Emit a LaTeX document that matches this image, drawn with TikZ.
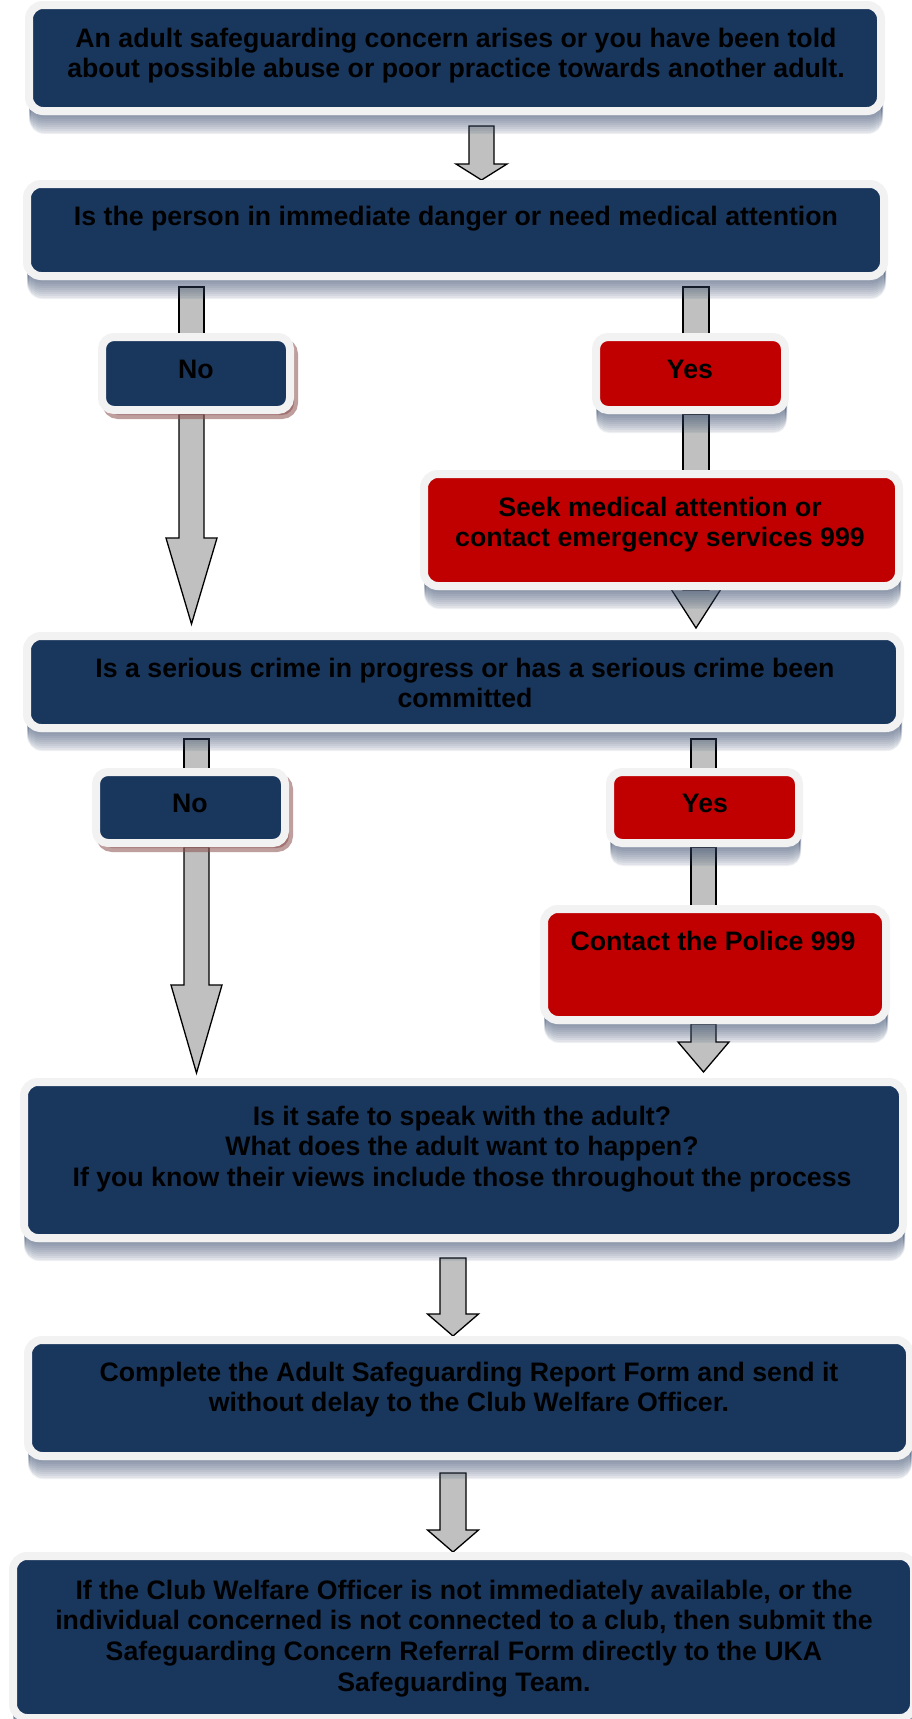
\documentclass[tikz,border=0pt]{standalone}
\usepackage{fontspec}
\setmainfont{Liberation Sans}
\usetikzlibrary{calc,backgrounds}
\definecolor{navy}{RGB}{25,54,93}
\definecolor{boxred}{RGB}{192,0,0}
\definecolor{rim}{RGB}{242,242,242}
\definecolor{arrowgray}{RGB}{192,192,192}
\definecolor{shadowcol}{RGB}{55,75,110}
\definecolor{pinkshadow}{RGB}{140,80,80}
\newcommand\fcstrut{\rule{0pt}{20pt}}
% shaft without head: x-centre, from node, offset below it, to node, half width
\newcommand\shaftbar[5]{%
  \draw[arrowsty] let \p1=(#2.south), \p2=(#4.north) in
    ({(#1-#5)*1pt},{\y1-#3*1pt}) rectangle ({(#1+#5)*1pt},{\y2-6pt});}
% block arrow: x-centre, from node, offset below it, to node, tip above to.north, head length, shaft half, head half
\newcommand\blockarrow[8]{%
  \draw[arrowsty] let \p1=(#2.south), \p2=(#4.north) in
    ({(#1-#7)*1pt},{\y1-#3*1pt}) -- ({(#1+#7)*1pt},{\y1-#3*1pt})
    -- ({(#1+#7)*1pt},{\y2+(#5+#6)*1pt}) -- ({(#1+#8)*1pt},{\y2+(#5+#6)*1pt})
    -- ({#1*1pt},{\y2+#5*1pt})
    -- ({(#1-#8)*1pt},{\y2+(#5+#6)*1pt}) -- ({(#1-#7)*1pt},{\y2+(#5+#6)*1pt}) -- cycle;}
\tikzset{
  sh/.style={preaction={fill=shadowcol, fill opacity=0.075, draw=shadowcol, line width=2pt,
      draw opacity=0.075, transform canvas={xshift=1pt,yshift=-#1}}},
  softshadow/.style={sh=6pt, sh=8pt, sh=10pt, sh=12pt, sh=14pt, sh=16pt, sh=18pt, sh=20pt, sh=22pt},
  box/.style={rounded corners=14pt, draw=rim, line width=8pt, inner sep=0pt, softshadow},
  navybox/.style={box, fill=navy},
  redbox/.style={box, fill=boxred},
  nobox/.style={rounded corners=12pt, draw=rim, line width=8pt, inner sep=0pt, fill=navy,
      preaction={fill=pinkshadow, draw=pinkshadow, line width=8pt, opacity=0.55,
      transform canvas={xshift=4pt,yshift=-5pt}}},
  yesbox/.style={redbox, rounded corners=12pt},
  txt/.style={font=\fontsize{26.7}{30.6}\selectfont\bfseries, align=center, inner sep=0pt,
      anchor=north, text=black},
  arrowsty/.style={fill=arrowgray, draw=black, line width=1.3pt, line join=miter}
}
\begin{document}
\begin{tikzpicture}[x=1pt,y=-1pt]
\useasboundingbox (0,0) rectangle (912,1719);

% boxes
\node[navybox, minimum width=852, minimum height=106] (b1) at (455,58) {};
\node[navybox, minimum width=857, minimum height=92] (b2) at (455.5,230) {};
\node[nobox, minimum width=188, minimum height=73] (no1) at (196,373.5) {};
\node[yesbox, minimum width=189, minimum height=73] (yes1) at (690.5,373.5) {};
\node[redbox, minimum width=475, minimum height=112] (seek) at (661.5,530) {};
\node[navybox, minimum width=873, minimum height=92] (b3) at (463.5,682) {};
\node[nobox, minimum width=189, minimum height=71] (no2) at (190.5,807.5) {};
\node[yesbox, minimum width=189, minimum height=71] (yes2) at (704.5,807.5) {};
\node[redbox, minimum width=342, minimum height=111] (police) at (715,964.5) {};
\node[navybox, minimum width=879, minimum height=156] (b4) at (463.5,1160) {};
\node[navybox, minimum width=882, minimum height=116] (b5) at (469,1398) {};
\node[navybox, minimum width=901, minimum height=162] (b6) at (463.5,1637) {};

% texts
\node[txt] (t1) at (456,27) {\fcstrut An adult safeguarding concern arises or you have been told\\about possible abuse or poor practice towards another adult.};
\node[txt] (t2) at (456,205) {\fcstrut Is the person in immediate danger or need medical attention};
\node[txt] (tno1) at (196,358) {\fcstrut No};
\node[txt] (tyes1) at (690,358) {\fcstrut Yes};
\node[txt] (tseek) at (660,496) {\fcstrut Seek medical attention or\\contact emergency services 999};
\node[txt] (t3) at (465,657) {\fcstrut Is a serious crime in progress or has a serious crime been\\committed};
\node[txt] (tno2) at (190,792) {\fcstrut No};
\node[txt] (tyes2) at (705,792) {\fcstrut Yes};
\node[txt] (tpol) at (713,930) {\fcstrut Contact the Police 999};
\node[txt] (t4) at (462,1105) {\fcstrut Is it safe to speak with the adult?\\What does the adult want to happen?\\If you know their views include those throughout the process};
\node[txt] (t5) at (469,1361) {\fcstrut Complete the Adult Safeguarding Report Form and send it\\without delay to the Club Welfare Officer.};
\node[txt] (t6) at (464,1579) {\fcstrut If the Club Welfare Officer is not immediately available, or the\\individual concerned is not connected to a club, then submit the\\Safeguarding Concern Referral Form directly to the UKA\\Safeguarding Team.};

% arrows (behind the boxes)
\begin{pgfonlayer}{background}
\fill[white] (0,0) rectangle (912,1719);
\blockarrow{481.5}{b1}{11}{b2}{0}{16}{12.5}{25.5}
\shaftbar{191.5}{b2}{7}{no1}{12.5}
\blockarrow{191.5}{no1}{0}{b3}{8}{86}{12.5}{25.5}
\shaftbar{696}{b2}{7}{yes1}{13}
\shaftbar{696}{yes1}{0}{seek}{13}
\blockarrow{696}{seek}{0}{b3}{4}{39}{13}{25}
\shaftbar{196.5}{b3}{7}{no2}{12.5}
\blockarrow{196.5}{no2}{0}{b4}{5}{88}{12.5}{25.5}
\shaftbar{703.5}{b3}{7}{yes2}{12.5}
\shaftbar{703.5}{yes2}{0}{police}{12.5}
\blockarrow{703.5}{police}{0}{b4}{6}{30}{12.5}{25.5}
\blockarrow{453}{b4}{16}{b5}{0}{22}{13}{25.5}
\blockarrow{453}{b5}{13}{b6}{0}{22}{13}{25.5}
\end{pgfonlayer}
\end{tikzpicture}
\end{document}
